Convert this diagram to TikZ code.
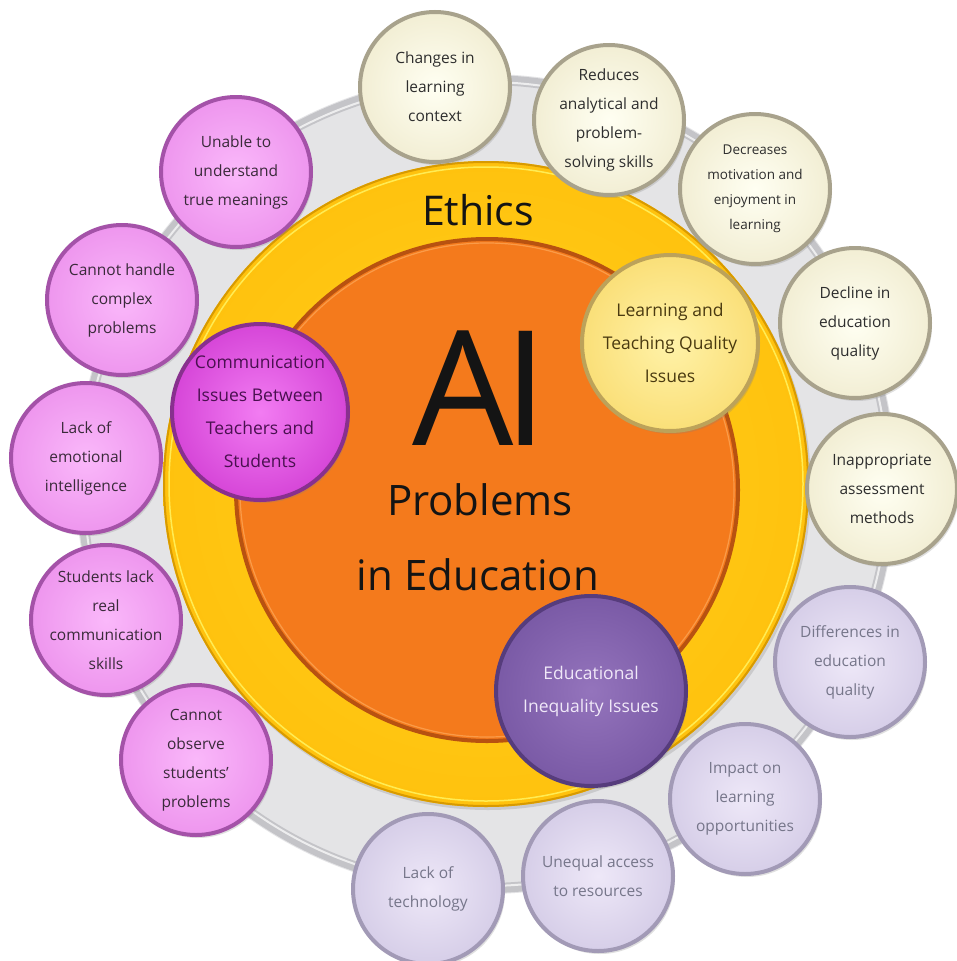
\documentclass[tikz,border=0pt]{standalone}
\usepackage{fontspec}
\setmainfont{Open Sans}
\usetikzlibrary{shadows}
\definecolor{graybg}{HTML}{E4E4E6}
\definecolor{ringcol}{HTML}{C4C4C8}
\definecolor{yelO}{HTML}{FFC20E}
\definecolor{yelI}{HTML}{FFD21E}
\definecolor{yelB}{HTML}{D89A00}
\definecolor{orF}{HTML}{F47A1C}
\definecolor{orB}{HTML}{B85210}
\definecolor{creamI}{HTML}{FFFFF2}
\definecolor{creamO}{HTML}{F2EED4}
\definecolor{creamB}{HTML}{A8A28C}
\definecolor{creamT}{HTML}{2E2E2E}
\definecolor{lavI}{HTML}{EEE8F8}
\definecolor{lavO}{HTML}{D6CEE8}
\definecolor{lavB}{HTML}{A29AB6}
\definecolor{lavT}{HTML}{76768A}
\definecolor{pinkI}{HTML}{FAB8FA}
\definecolor{pinkO}{HTML}{EE96EE}
\definecolor{pinkB}{HTML}{A452A8}
\definecolor{pinkT}{HTML}{3A2A3A}
\definecolor{commI}{HTML}{F27CF2}
\definecolor{commO}{HTML}{D646D8}
\definecolor{commB}{HTML}{88308E}
\definecolor{commT}{HTML}{4A1050}
\definecolor{learnI}{HTML}{FFF2A8}
\definecolor{learnO}{HTML}{FADF78}
\definecolor{learnB}{HTML}{BCA25A}
\definecolor{learnT}{HTML}{4A3A10}
\definecolor{ineqI}{HTML}{9474BC}
\definecolor{ineqO}{HTML}{7A5AA6}
\definecolor{ineqB}{HTML}{563C7C}
\definecolor{ineqT}{HTML}{F0E8F8}
\newcommand\bubfont{\fontsize{15.5}{29}\selectfont}
\newcommand\bubsmall{\fontsize{13.5}{25}\selectfont}
\newcommand\midfont{\fontsize{17.5}{33}\selectfont}
\tikzset{
  bub/.style={circle, minimum size=150pt, inner sep=0pt, align=center,
    font=\bubfont, line width=4pt,
    drop shadow={shadow xshift=2pt, shadow yshift=-3pt, opacity=0.25}},
  cream/.style={bub, draw=creamB, inner color=creamI, outer color=creamO, text=creamT},
  lav/.style={bub, draw=lavB, inner color=lavI, outer color=lavO, text=lavT},
  pink/.style={bub, draw=pinkB, inner color=pinkI, outer color=pinkO, text=pinkT},
  midbub/.style={bub, minimum size=176pt, font=\midfont, line width=4pt},
  bigtext/.style={inner sep=0pt, text=black!92}
}
\begin{document}
\begin{tikzpicture}[x=1pt,y=-1pt]
\useasboundingbox (0,0) rectangle (956,961);
\fill[white] (0,0) rectangle (956,961);
\coordinate (c) at (486,484);
\coordinate (o) at (487,490);
% gray band and ring
\fill[graybg] (c) circle (410);
\draw[ringcol, line width=10pt] (c) circle (404);
\draw[white, line width=2pt, opacity=.7] (c) circle (402);
% yellow ring (Ethics)
\shade[inner color=yelI, outer color=yelO, drop shadow={shadow xshift=2pt, shadow yshift=-3pt, opacity=0.25}] (c) circle (323);
\draw[yelB, line width=2pt] (c) circle (322);
\draw[yellow!60!white, line width=1.5pt, opacity=.8] (c) circle (317);
% orange core
\fill[orF] (o) circle (252);
\draw[orB, line width=4pt] (o) circle (251);
\draw[orange!60!white, line width=1.2pt, opacity=.6] (o) circle (247);
% central texts
\node[bigtext, font=\fontsize{41}{41}\selectfont] (ethics) at (478,210) {Ethics};
\node[bigtext, font=\fontsize{160}{160}\selectfont] (ai) at (480,388) {A\kern-10pt I};
\node[bigtext, font=\fontsize{42}{42}\selectfont] (prob) at (480,500) {Problems};
\node[bigtext, font=\fontsize{42}{42}\selectfont] (edu) at (478,575) {in Education};
% middle circles
\node[midbub, draw=commB, inner color=commI, outer color=commO, text=commT] (comm) at (260,412)
  {Communication\\Issues Between\\Teachers and\\Students};
\node[midbub, draw=learnB, inner color=learnI, outer color=learnO, text=learnT] (learn) at (670,343)
  {Learning and\\Teaching Quality\\Issues};
\node[midbub, minimum size=190pt, draw=ineqB, inner color=ineqI, outer color=ineqO, text=ineqT] (ineq) at (591,691)
  {Educational\\Inequality Issues};
% cream circles
\node[cream] (c1) at (435,87) {Changes in\\learning\\context};
\node[cream] (c2) at (609,120) {Reduces\\analytical and\\problem-\\solving skills};
\node[cream, font=\bubsmall] (c3) at (755,189) {Decreases\\motivation and\\enjoyment in\\learning};
\node[cream] (c4) at (855,323) {Decline in\\education\\quality};
\node[cream] (c5) at (882,489) {Inappropriate\\assessment\\methods};
% lavender circles
\node[lav] (l1) at (850,662) {Differences in\\education\\quality};
\node[lav] (l2) at (745,799) {Impact on\\learning\\opportunities};
\node[lav] (l3) at (598,876) {Unequal access\\to resources};
\node[lav] (l4) at (428,889) {Lack of\\technology};
% pink circles
\node[pink] (p1) at (196,760) {Cannot\\observe\\students'\\problems};
\node[pink] (p2) at (106,620) {Students lack\\real\\communication\\skills};
\node[pink] (p3) at (86,458) {Lack of\\emotional\\intelligence};
\node[pink] (p4) at (122,300) {Cannot handle\\complex\\problems};
\node[pink] (p5) at (236,172) {Unable to\\understand\\true meanings};
\end{tikzpicture}
\end{document}
